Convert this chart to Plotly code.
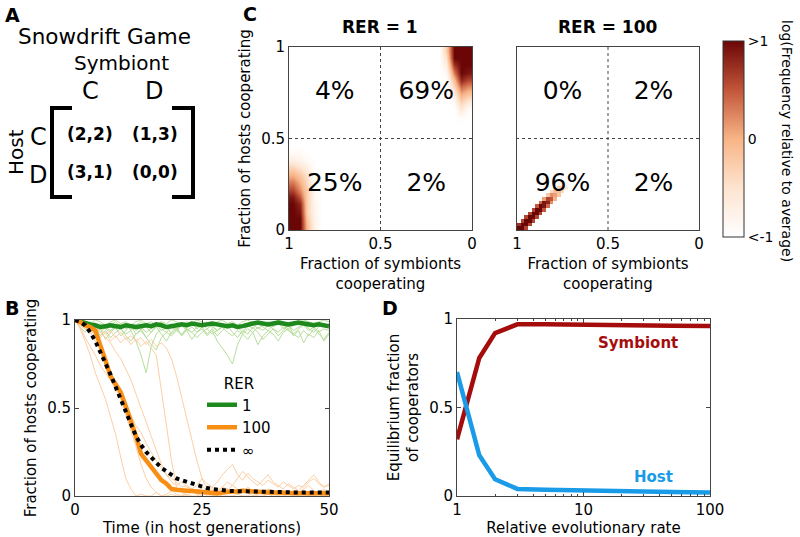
import plotly.graph_objects as go

W, H = 800, 537
def px(x): return x / W
def py(y): return 1 - y / H

FONT = "DejaVu Sans"

# ---------------- Panel B data (fraction of hosts cooperating over time) ----------------
time = list(range(51))
rer1_mean = [1.0,0.99,0.98,0.975,0.97,0.96,0.965,0.97,0.965,0.96,0.97,0.965,0.96,0.965,0.97,0.965,0.975,0.97,0.96,0.965,
             0.97,0.975,0.97,0.98,0.975,0.97,0.975,0.98,0.975,0.97,0.965,0.97,0.96,0.965,0.975,0.98,0.985,0.98,0.975,0.98,
             0.985,0.98,0.975,0.98,0.985,0.98,0.975,0.97,0.975,0.97,0.965]
rer100_mean = [1.0,0.99,0.97,0.96,0.94,0.86,0.77,0.68,0.64,0.59,0.51,0.43,0.34,0.24,0.20,0.17,0.13,0.09,0.07,0.04,
               0.035,0.03,0.03,0.028,0.025,0.02,0.015,0.015,0.015,0.02,0.025,0.025,0.025,0.03,0.028,0.025,0.025,0.022,0.02,0.02,
               0.018,0.018,0.016,0.015,0.015,0.015,0.015,0.015,0.015,0.015,0.015]
rer_inf_mean = [1.0,0.99,0.97,0.93,0.88,0.82,0.76,0.69,0.62,0.55,0.47,0.40,0.34,0.29,0.25,0.22,0.19,0.16,0.14,0.12,
                0.10,0.09,0.08,0.07,0.06,0.05,0.045,0.04,0.035,0.032,0.03,0.028,0.027,0.026,0.025,0.025,0.024,0.023,0.023,0.022,
                0.022,0.021,0.021,0.021,0.02,0.02,0.02,0.02,0.02,0.02,0.02]

rer1_run_a = [1.0,0.98,0.97,0.95,0.97,0.93,0.96,0.94,0.97,0.95,0.92,0.94,0.88,0.80,0.70,0.85,0.92,0.95,0.93,0.96,
              0.94,0.97,0.95,0.93,0.96,0.98,0.95,0.97,0.94,0.96,0.98,0.97,0.95,0.97,0.96,0.98,0.95,0.97,0.99,0.96,
              0.98,0.97,0.95,0.97,0.99,0.97,0.96,0.98,0.97,0.96,0.98]
rer1_run_b = [1.0,0.99,0.96,0.98,0.94,0.97,0.95,0.93,0.96,0.98,0.95,0.97,0.94,0.96,0.93,0.95,0.97,0.94,0.96,0.92,
              0.95,0.97,0.94,0.96,0.93,0.95,0.91,0.94,0.88,0.84,0.80,0.75,0.86,0.92,0.95,0.93,0.96,0.94,0.97,0.95,
              0.93,0.96,0.94,0.92,0.95,0.97,0.94,0.96,0.93,0.95,0.94]
rer1_run_c = [1.0,0.97,0.95,0.93,0.96,0.91,0.94,0.90,0.93,0.95,0.91,0.88,0.92,0.94,0.90,0.86,0.83,0.90,0.93,0.91,
              0.94,0.92,0.95,0.93,0.90,0.93,0.95,0.92,0.94,0.96,0.93,0.91,0.94,0.92,0.89,0.93,0.86,0.91,0.94,0.92,
              0.88,0.93,0.95,0.91,0.94,0.87,0.92,0.90,0.94,0.88,0.92]
rer1_run_d = [1.0,1.0,0.99,0.98,1.0,0.99,0.97,0.99,1.0,0.98,0.99,0.97,0.99,1.0,0.98,0.99,0.97,0.99,0.98,1.0,
              0.99,0.97,0.99,0.98,1.0,0.99,0.98,0.96,0.99,1.0,0.98,0.99,0.97,0.99,1.0,0.98,0.99,0.97,0.99,0.98,
              1.0,0.99,0.97,0.99,0.98,1.0,0.99,0.98,0.99,1.0,0.99]
rer1_run_e = [1.0,0.96,0.93,0.97,0.92,0.95,0.89,0.93,0.96,0.91,0.94,0.97,0.92,0.95,0.90,0.93,0.96,0.92,0.88,0.93,
              0.96,0.91,0.94,0.89,0.93,0.96,0.92,0.95,0.91,0.94,0.97,0.93,0.90,0.94,0.92,0.96,0.93,0.89,0.92,0.95,
              0.91,0.94,0.97,0.92,0.90,0.94,0.91,0.95,0.92,0.89,0.93]
rer1_run_f = [1.0,0.99,0.97,0.99,0.96,0.98,0.95,0.97,0.99,0.96,0.98,0.94,0.97,0.99,0.96,0.93,0.97,0.99,0.96,0.98,
              0.95,0.91,0.96,0.98,0.95,0.97,0.99,0.96,0.94,0.97,0.95,0.98,0.96,0.93,0.97,0.95,0.98,0.96,0.94,0.97,
              0.99,0.95,0.97,0.94,0.96,0.98,0.95,0.93,0.96,0.98,0.95]

rer100_run_a = [1.0,0.95,0.88,0.80,0.70,0.62,0.55,0.45,0.35,0.22,0.10,0.04,0.0,0.01,0.0,0.0,0.02,0.0,0.0,0.01,
                0.0,0.0,0.01,0.0,0.0,0.02,0.0,0.0,0.01,0.0,0.0,0.0,0.01,0.0,0.0,0.02,0.0,0.0,0.01,0.0,
                0.0,0.0,0.01,0.0,0.0,0.02,0.0,0.0,0.01,0.0,0.0]
rer100_run_b = [1.0,0.98,0.96,0.93,0.88,0.84,0.78,0.70,0.64,0.55,0.46,0.38,0.28,0.18,0.10,0.05,0.02,0.0,0.01,0.03,
                0.01,0.0,0.02,0.04,0.02,0.01,0.03,0.05,0.03,0.02,0.04,0.02,0.01,0.03,0.02,0.0,0.01,0.03,0.02,0.01,
                0.0,0.02,0.01,0.03,0.02,0.01,0.0,0.02,0.01,0.0,0.01]
rer100_run_c = [1.0,0.99,0.97,0.95,0.96,0.93,0.90,0.87,0.82,0.78,0.72,0.66,0.58,0.50,0.42,0.33,0.25,0.18,0.12,0.08,
                0.06,0.08,0.05,0.04,0.06,0.10,0.07,0.05,0.08,0.12,0.15,0.18,0.12,0.09,0.13,0.10,0.08,0.06,0.09,0.07,
                0.05,0.08,0.06,0.04,0.06,0.05,0.08,0.10,0.07,0.05,0.06]
rer100_run_d = [1.0,0.97,0.95,0.92,0.94,0.90,0.93,0.88,0.91,0.87,0.90,0.86,0.89,0.85,0.88,0.84,0.80,0.60,0.40,0.20,
                0.05,0.02,0.0,0.03,0.01,0.0,0.02,0.04,0.02,0.01,0.03,0.06,0.04,0.02,0.05,0.03,0.01,0.02,0.04,0.02,
                0.01,0.03,0.02,0.0,0.02,0.04,0.06,0.03,0.02,0.04,0.02]
rer100_run_e = [1.0,0.98,0.96,0.97,0.94,0.95,0.92,0.94,0.90,0.93,0.89,0.91,0.88,0.90,0.86,0.89,0.85,0.87,0.84,0.78,
                0.68,0.56,0.44,0.32,0.20,0.10,0.04,0.01,0.02,0.05,0.08,0.06,0.10,0.14,0.11,0.08,0.06,0.09,0.12,0.08,
                0.06,0.04,0.07,0.05,0.03,0.06,0.09,0.12,0.08,0.05,0.07]
rer100_run_f = [1.0,0.96,0.90,0.85,0.80,0.74,0.70,0.66,0.60,0.56,0.52,0.46,0.40,0.36,0.30,0.25,0.20,0.16,0.12,0.10,
                0.08,0.05,0.06,0.04,0.03,0.05,0.04,0.02,0.03,0.05,0.04,0.03,0.02,0.04,0.03,0.02,0.03,0.02,0.04,0.03,
                0.02,0.03,0.02,0.01,0.02,0.03,0.02,0.01,0.02,0.03,0.02]
rer1_runs = [rer1_run_a, rer1_run_b, rer1_run_c, rer1_run_d, rer1_run_e, rer1_run_f]
rer100_runs = [rer100_run_a, rer100_run_b, rer100_run_c, rer100_run_d, rer100_run_e, rer100_run_f]

# ---------------- Panel C data (log frequency relative to average) ----------------
background_level = -1.0
# RER = 1 : 25x25 grid (bin width 0.04)
coarse_centres = [round(0.02 + 0.04 * i, 2) for i in range(25)]
# (fraction of symbionts cooperating, fraction of hosts cooperating, log frequency)
rer1_cells = [
    (0.98, 0.02, 1.0), (0.98, 0.06, 1.0), (0.98, 0.10, 1.0), (0.98, 0.14, 1.0), (0.98, 0.18, 0.9),
    (0.98, 0.22, 0.6), (0.98, 0.26, 0.3), (0.98, 0.30, 0.0), (0.98, 0.34, -0.3), (0.98, 0.38, -0.7),
    (0.98, 0.42, -0.9),
    (0.94, 0.02, 1.0), (0.94, 0.06, 1.0), (0.94, 0.10, 0.9), (0.94, 0.14, 0.8), (0.94, 0.18, 0.5),
    (0.94, 0.22, 0.2), (0.94, 0.26, 0.0), (0.94, 0.30, -0.2), (0.94, 0.34, -0.5), (0.94, 0.38, -0.8),
    (0.94, 0.42, -0.9),
    (0.90, 0.02, -0.1), (0.90, 0.06, -0.2), (0.90, 0.10, -0.3), (0.90, 0.14, -0.3), (0.90, 0.18, -0.3),
    (0.90, 0.22, -0.3), (0.90, 0.26, -0.4), (0.90, 0.30, -0.5), (0.90, 0.34, -0.7), (0.90, 0.38, -0.9),
    (0.86, 0.02, -0.8), (0.86, 0.06, -0.8), (0.86, 0.10, -0.85), (0.86, 0.14, -0.85), (0.86, 0.18, -0.9),
    (0.86, 0.22, -0.9),
    (0.02, 0.98, 1.0), (0.02, 0.94, 1.0), (0.02, 0.90, 1.0), (0.02, 0.86, 0.9), (0.02, 0.82, 0.6),
    (0.02, 0.78, 0.2), (0.02, 0.74, -0.2), (0.02, 0.70, -0.6), (0.02, 0.66, -0.9),
    (0.06, 0.98, 1.0), (0.06, 0.94, 1.0), (0.06, 0.90, 1.0), (0.06, 0.86, 1.0), (0.06, 0.82, 0.8),
    (0.06, 0.78, 0.4), (0.06, 0.74, 0.0), (0.06, 0.70, -0.3), (0.06, 0.66, -0.6), (0.06, 0.62, -0.9),
    (0.10, 0.98, 1.0), (0.10, 0.94, 1.0), (0.10, 0.90, 0.7), (0.10, 0.86, 0.3), (0.10, 0.82, -0.1),
    (0.10, 0.78, -0.4), (0.10, 0.74, -0.7), (0.10, 0.70, -0.9),
    (0.14, 0.98, -0.3), (0.14, 0.94, -0.5), (0.14, 0.90, -0.7), (0.14, 0.86, -0.9),
]
# RER = 100 : 50x50 grid (bin width 0.02)
fine_centres = [round(0.01 + 0.02 * i, 2) for i in range(50)]
rer100_cells = [
    (0.99, 0.01, 1.0), (0.97, 0.01, 1.0), (0.95, 0.01, 0.6),
    (0.99, 0.03, 0.7), (0.97, 0.03, 1.0), (0.95, 0.03, 1.0), (0.93, 0.03, 0.6),
    (0.97, 0.05, 0.6), (0.95, 0.05, 1.0), (0.93, 0.05, 1.0), (0.91, 0.05, 0.6),
    (0.95, 0.07, 0.6), (0.93, 0.07, 1.0), (0.91, 0.07, 1.0), (0.89, 0.07, 0.6),
    (0.93, 0.09, 0.6), (0.91, 0.09, 1.0), (0.89, 0.09, 1.0), (0.87, 0.09, 0.6),
    (0.91, 0.11, 0.6), (0.89, 0.11, 1.0), (0.87, 0.11, 1.0), (0.85, 0.11, 0.5),
    (0.89, 0.13, 0.5), (0.87, 0.13, 1.0), (0.85, 0.13, 0.9), (0.83, 0.13, 0.4),
    (0.87, 0.15, 0.4), (0.85, 0.15, 0.9), (0.83, 0.15, 0.8), (0.81, 0.15, 0.2),
    (0.85, 0.17, 0.1), (0.83, 0.17, 0.6), (0.81, 0.17, 0.5), (0.79, 0.17, 0.0),
    (0.83, 0.19, -0.2), (0.81, 0.19, 0.2), (0.79, 0.19, 0.1), (0.77, 0.19, -0.2),
    (0.81, 0.21, -0.4), (0.79, 0.21, -0.1), (0.77, 0.21, -0.1), (0.75, 0.21, -0.4),
    (0.79, 0.23, -0.6), (0.77, 0.23, -0.3), (0.75, 0.23, -0.3), (0.73, 0.23, -0.6),
    (0.77, 0.25, -0.8), (0.75, 0.25, -0.6), (0.73, 0.25, -0.8),
]
quadrant_x = [0.75, 0.25, 0.75, 0.25]
quadrant_y = [0.75, 0.75, 0.25, 0.25]
rer1_percent = ["4%", "69%", "25%", "2%"]
rer100_percent = ["0%", "2%", "96%", "2%"]

# ---------------- Panel D data ----------------
rer_values = [1, 1.5, 2, 3, 5, 10, 20, 50, 100]
symbiont_eq = [0.32, 0.78, 0.92, 0.97, 0.97, 0.966, 0.964, 0.962, 0.96]
host_eq = [0.70, 0.23, 0.095, 0.04, 0.035, 0.03, 0.026, 0.023, 0.02]


def build_grid(cells, centres):
    n = len(centres)
    z = [[background_level] * n for _ in range(n)]
    for cx, cy, v in cells:
        i = centres.index(round(cx, 2))
        j = centres.index(round(cy, 2))
        z[j][i] = v
    return z


fig = go.Figure()

# ---- Panel C heatmaps ----
fig.add_trace(go.Heatmap(
    x=coarse_centres, y=coarse_centres, z=build_grid(rer1_cells, coarse_centres),
    coloraxis="coloraxis", zsmooth="best", hoverinfo="skip", xaxis="x", yaxis="y"))
fig.add_trace(go.Heatmap(
    x=fine_centres, y=fine_centres, z=build_grid(rer100_cells, fine_centres),
    coloraxis="coloraxis", zsmooth=False, hoverinfo="skip", xaxis="x2", yaxis="y2"))

for k, labels in enumerate([rer1_percent, rer100_percent]):
    suffix = "" if k == 0 else "2"
    fig.add_trace(go.Scatter(
        x=quadrant_x, y=quadrant_y, text=labels, mode="text",
        textfont=dict(size=25, color="black", family=FONT),
        showlegend=False, hoverinfo="skip",
        xaxis="x" + suffix, yaxis="y" + suffix))

# ---- Panel B ----
for run in rer1_runs:
    fig.add_trace(go.Scatter(x=time, y=run, mode="lines", line=dict(color="#b7de9b", width=1),
                             showlegend=False, xaxis="x3", yaxis="y3", hoverinfo="skip"))
for run in rer100_runs:
    fig.add_trace(go.Scatter(x=time, y=run, mode="lines", line=dict(color="#fccfa6", width=1),
                             showlegend=False, xaxis="x3", yaxis="y3", hoverinfo="skip"))
fig.add_trace(go.Scatter(x=time, y=rer1_mean, mode="lines", name="1",
                         line=dict(color="#1e8a1e", width=4.5), xaxis="x3", yaxis="y3"))
fig.add_trace(go.Scatter(x=time, y=rer100_mean, mode="lines", name="100",
                         line=dict(color="#f98e14", width=4.5), xaxis="x3", yaxis="y3"))
fig.add_trace(go.Scatter(x=time, y=rer_inf_mean, mode="lines", name="∞",
                         line=dict(color="black", width=4, dash="dot"), xaxis="x3", yaxis="y3"))

# ---- Panel D ----
fig.add_trace(go.Scatter(x=rer_values, y=symbiont_eq, mode="lines", name="Symbiont", showlegend=False,
                         line=dict(color="#a50d0d", width=4.5), xaxis="x4", yaxis="y4"))
fig.add_trace(go.Scatter(x=rer_values, y=host_eq, mode="lines", name="Host", showlegend=False,
                         line=dict(color="#1a9be8", width=4.5), xaxis="x4", yaxis="y4"))

axis_common = dict(showline=True, linecolor="#444", linewidth=1, mirror="ticks", showgrid=False,
                   zeroline=False, tickfont=dict(size=15, color="black", family=FONT),
                   title_font=dict(size=15, color="black", family=FONT), tickcolor="#444")

heat_y_dom = [py(230), py(47)]
bottom_y_dom = [py(496), py(320)]

fig.update_layout(
    width=W, height=H, margin=dict(l=0, r=0, t=0, b=0, autoexpand=False),
    paper_bgcolor="white", plot_bgcolor="white",
    font=dict(family=FONT, color="black"),
    showlegend=True,
    coloraxis=dict(
        cmin=-1, cmax=1,
        colorscale=[[0.0, "#ffffff"], [0.25, "#fde4d0"], [0.5, "#f8b486"],
                    [0.75, "#c2563a"], [1.0, "#6a0606"]],
        colorbar=dict(x=px(723), xanchor="left", xpad=0, ypad=0,
                      y=py(139), yanchor="middle", len=196 / H, lenmode="fraction",
                      thickness=21, thicknessmode="pixels",
                      outlinewidth=1, outlinecolor="#333",
                      tickvals=[-1, 0, 1], ticktext=["<-1", "0", ">1"], ticks="",
                      tickfont=dict(size=14, color="black", family=FONT))),
    xaxis=dict(axis_common, domain=[px(289), px(472)], range=[1, 0], anchor="y",
               tickvals=[1, 0.5, 0], ticktext=["1", "0.5", "0"], ticks="",
               title=dict(text="Fraction of symbionts<br>cooperating", standoff=6)),
    yaxis=dict(axis_common, domain=heat_y_dom, range=[0, 1], anchor="x",
               tickvals=[0, 0.5, 1], ticktext=["0", "0.5", "1"], ticks="",
               title=dict(text="Fraction of hosts cooperating", standoff=6)),
    xaxis2=dict(axis_common, domain=[px(517), px(699)], range=[1, 0], anchor="y2",
                tickvals=[1, 0.5, 0], ticktext=["1", "0.5", "0"], ticks="",
                title=dict(text="Fraction of symbionts<br>cooperating", standoff=6)),
    yaxis2=dict(axis_common, domain=heat_y_dom, range=[0, 1], anchor="x2",
                showticklabels=False, ticks=""),
    xaxis3=dict(axis_common, domain=[px(75), px(329)], range=[0, 50], anchor="y3",
                tickvals=[0, 25, 50], ticks="inside", ticklen=4,
                title=dict(text="Time (in host generations)", standoff=4)),
    yaxis3=dict(axis_common, domain=bottom_y_dom, range=[0, 1], anchor="x3",
                tickvals=[0, 0.5, 1], ticktext=["0", "0.5", "1"], ticks="inside", ticklen=4,
                title=dict(text="Fraction of hosts cooperating", standoff=6)),
    xaxis4=dict(axis_common, domain=[px(457), px(710)], type="log", range=[0, 2], anchor="y4",
                tickvals=[1, 10, 100], ticktext=["1", "10", "100"], ticks="inside", ticklen=4,
                minor=dict(tickvals=[2, 3, 4, 5, 6, 7, 8, 9, 20, 30, 40, 50, 60, 70, 80, 90],
                           ticks="inside", ticklen=2, tickcolor="#444"),
                title=dict(text="Relative evolutionary rate", standoff=4)),
    yaxis4=dict(axis_common, domain=[py(496), py(319)], range=[0, 1], anchor="x4",
                tickvals=[0, 0.5, 1], ticktext=["0", "0.5", "1"], ticks="inside", ticklen=4,
                title=dict(text="Equilibrium fraction<br>of cooperators", standoff=6)),
    legend=dict(x=px(202), y=py(369), xanchor="left", yanchor="top",
                bgcolor="rgba(0,0,0,0)", font=dict(size=15, family=FONT, color="black"),
                title=dict(text="RER", side="top center", font=dict(size=15, family=FONT)),
                itemwidth=30, tracegroupgap=0),
)

# dotted quadrant dividers in panel C
shapes = []
for xr, yr in [("x", "y"), ("x2", "y2")]:
    shapes.append(dict(type="line", xref=xr, yref=yr, x0=0.5, x1=0.5, y0=0, y1=1,
                       line=dict(color="#444", width=1, dash="dot"), layer="above"))
    shapes.append(dict(type="line", xref=xr, yref=yr, x0=0, x1=1, y0=0.5, y1=0.5,
                       line=dict(color="#444", width=1, dash="dot"), layer="above"))

# payoff matrix brackets (panel A)
def path(points):
    return "M " + " L ".join(f"{px(a):.5f},{py(b):.5f}" for a, b in points)

shapes.append(dict(type="path", xref="paper", yref="paper",
                   path=path([(72, 108), (52, 108), (52, 197), (72, 197)]),
                   line=dict(color="black", width=4)))
shapes.append(dict(type="path", xref="paper", yref="paper",
                   path=path([(172, 108), (193, 108), (193, 197), (172, 197)]),
                   line=dict(color="black", width=4)))
fig.update_layout(shapes=shapes)

def ann(text, x, y, size, bold=False, color="black", angle=0):
    t = f"<b>{text}</b>" if bold else text
    fig.add_annotation(text=t, x=px(x), y=py(y), xref="paper", yref="paper",
                       showarrow=False, textangle=angle, xanchor="center", yanchor="middle",
                       font=dict(size=size, color=color, family=FONT))

# panel letters
ann("A", 12, 15, 19, bold=True)
ann("B", 12, 308, 19, bold=True)
ann("C", 250, 14, 19, bold=True)
ann("D", 390, 308, 19, bold=True)

# panel A: payoff matrix
ann("Snowdrift Game", 104, 37, 21.5)
ann("Symbiont", 121, 63, 20)
ann("C", 90, 91, 24)
ann("D", 154, 91, 24)
ann("Host", 16, 152, 20, angle=-90)
ann("C", 38, 137, 24)
ann("D", 38, 175, 24)
ann("(2,2)", 90, 134, 17, bold=True)
ann("(1,3)", 155, 134, 17, bold=True)
ann("(3,1)", 90, 172, 17, bold=True)
ann("(0,0)", 155, 172, 17, bold=True)

# panel C titles and colourbar label
ann("RER = 1", 380, 27, 17, bold=True)
ann("RER = 100", 608, 27, 17, bold=True)
ann("log(Frequency relative to average)", 787, 141, 14, angle=90)

# panel D curve labels
ann("Symbiont", 638, 343, 15, bold=True, color="#a50d0d")
ann("Host", 653, 477, 15, bold=True, color="#1a9be8")

fig.write_html("out.html", config={"displayModeBar": False},
               post_script="document.body.style.margin='0px';")
